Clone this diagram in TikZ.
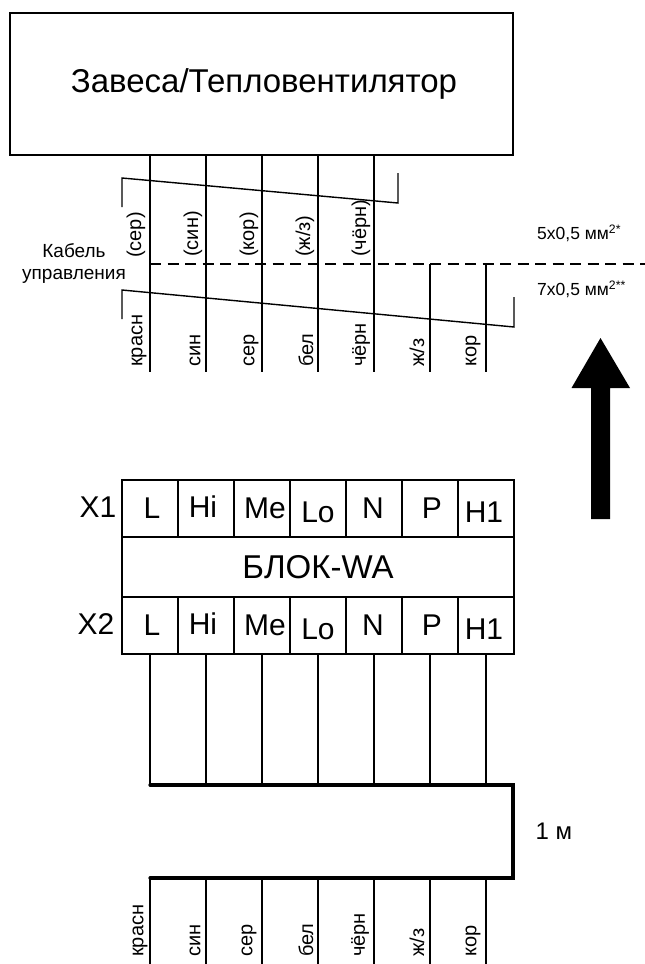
\documentclass[tikz,border=0pt]{standalone}
\usepackage{fontspec}
\setmainfont{Liberation Sans}
\usepackage{tikz}
\tikzset{
  wire/.style = {line width = 1.4pt},
  bus/.style = {line width = 3.2pt, line cap = round},
  cell/.style = {draw, line width = 1.4pt, minimum width = 56pt, minimum height = 57pt, inner sep = 0pt},
  pin/.style = {inner sep = 0pt, font = \fontsize{30}{30}\selectfont},
  tag/.style = {inner sep = 0pt, rotate = 90, anchor = west, font = \fontsize{20}{20}\selectfont},
  note/.style = {inner sep = 0pt, font = \fontsize{19}{22}\selectfont},
  size/.style = {inner sep = 0pt, anchor = west, font = \fontsize{17.5}{20}\selectfont}
}

\begin{document}
\begin{tikzpicture}[x = 1pt, y = -1pt]
\useasboundingbox (0, 0) rectangle (645, 964);

% upper unit
\node [draw, line width = 1.4pt, minimum width = 503pt, minimum height = 142pt, inner sep = 0pt, font = \fontsize{33}{33}\selectfont] (unit) at (261.5, 84) {\hspace*{5pt}Завеса/Тепловентилятор};

\coordinate (ua) at (150, 155); \coordinate (ub) at (206, 155);
\coordinate (uc) at (262, 155); \coordinate (ud) at (318, 155);
\coordinate (ue) at (374, 155);
\coordinate (uf) at (430, 264); \coordinate (ug) at (486, 264);
\coordinate (ma) at (150, 372); \coordinate (mb) at (206, 372);
\coordinate (mc) at (262, 372); \coordinate (md) at (318, 372);
\coordinate (me) at (374, 372); \coordinate (mf) at (430, 372);
\coordinate (mg) at (486, 372);
\draw [wire] (ua) -- (ma); \draw [wire] (ub) -- (mb);
\draw [wire] (uc) -- (mc); \draw [wire] (ud) -- (md);
\draw [wire] (ue) -- (me); \draw [wire] (uf) -- (mf);
\draw [wire] (ug) -- (mg);

% cable brackets and split line
\coordinate (bra) at (122, 207); \coordinate (brb) at (122, 178);
\coordinate (brc) at (398, 203); \coordinate (brd) at (398, 173);
\coordinate (bre) at (122, 319); \coordinate (brf) at (122, 290);
\coordinate (brg) at (514, 327); \coordinate (brh) at (514, 297);
\coordinate (spa) at (150, 264); \coordinate (spb) at (645, 264);
\draw [wire] (bra) -- (brb) -- (brc) -- (brd);
\draw [wire] (bre) -- (brf) -- (brg) -- (brh);
\draw [wire, dash pattern = on 11pt off 6.5pt] (spa) -- (spb);

\node [note, align = center] (cable) at (74, 264) {Кабель\\управления};
\node [size] (five) at (537, 233) {5х0,5 мм\textsuperscript{2*}};
\node [size] (seven) at (537, 289) {7х0,5 мм\textsuperscript{2**}};

\node [tag] (ota) at (136, 258) {(сер)};
\node [tag] (otb) at (193, 257) {(син)};
\node [tag] (otc) at (249, 257) {(кор)};
\node [tag] (otd) at (305, 257) {(ж/з)};
\node [tag] (ote) at (361, 257) {(чёрн)};

\node [tag] (mta) at (139, 367) {красн};
\node [tag] (mtb) at (195, 367) {син};
\node [tag] (mtc) at (251, 367) {сер};
\node [tag] (mtd) at (306, 367) {бел};
\node [tag] (mte) at (361, 367) {чёрн};
\node [tag] (mtf) at (417, 367) {ж/з};
\node [tag] (mtg) at (473, 367) {кор};

% direction arrow
\fill (600.5, 338) -- (630, 388) -- (610, 388) -- (610, 519) -- (591, 519) -- (591, 388) -- (571.5, 388) -- cycle;

% block
\node [cell] (xa) at (150, 508.5) {}; \node [cell] (xb) at (206, 508.5) {};
\node [cell] (xc) at (262, 508.5) {}; \node [cell] (xd) at (318, 508.5) {};
\node [cell] (xe) at (374, 508.5) {}; \node [cell] (xf) at (430, 508.5) {};
\node [cell] (xg) at (486, 508.5) {};
\node [draw, line width = 1.4pt, minimum width = 392pt, minimum height = 60pt, inner sep = 0pt, font = \fontsize{33}{33}\selectfont] (block) at (318, 567) {БЛОК-WA};
\node [cell] (ya) at (150, 625.5) {}; \node [cell] (yb) at (206, 625.5) {};
\node [cell] (yc) at (262, 625.5) {}; \node [cell] (yd) at (318, 625.5) {};
\node [cell] (ye) at (374, 625.5) {}; \node [cell] (yf) at (430, 625.5) {};
\node [cell] (yg) at (486, 625.5) {};

\node [pin] (xla) at (152, 508) {L}; \node [pin] (xlb) at (203, 507) {Hi};
\node [pin] (xlc) at (265, 508) {Me}; \node [pin] (xld) at (318, 512) {Lo};
\node [pin] (xle) at (373, 508) {N}; \node [pin] (xlf) at (432, 508) {P};
\node [pin] (xlg) at (484, 512) {H1};
\node [pin] (yla) at (152, 625) {L}; \node [pin] (ylb) at (203, 624) {Hi};
\node [pin] (ylc) at (265, 625) {Me}; \node [pin] (yld) at (318, 629) {Lo};
\node [pin] (yle) at (373, 625) {N}; \node [pin] (ylf) at (432, 625) {P};
\node [pin] (ylg) at (484, 629) {H1};
\node [pin] (xone) at (98, 507) {X1};
\node [pin] (xtwo) at (96, 624) {X2};

% lower harness
\coordinate (ta) at (150, 785); \coordinate (tb) at (206, 785);
\coordinate (tc) at (262, 785); \coordinate (td) at (318, 785);
\coordinate (te) at (374, 785); \coordinate (tf) at (430, 785);
\coordinate (tg) at (486, 785); \coordinate (th) at (513, 785);
\coordinate (la) at (150, 878); \coordinate (lb) at (206, 878);
\coordinate (lc) at (262, 878); \coordinate (ld) at (318, 878);
\coordinate (le) at (374, 878); \coordinate (lf) at (430, 878);
\coordinate (lg) at (486, 878); \coordinate (lh) at (513, 878);
\coordinate (ea) at (150, 964); \coordinate (eb) at (206, 964);
\coordinate (ec) at (262, 964); \coordinate (ed) at (318, 964);
\coordinate (ee) at (374, 964); \coordinate (ef) at (430, 964);
\coordinate (eg) at (486, 964);
\draw [wire] (ya.south) -- (ta); \draw [wire] (yb.south) -- (tb);
\draw [wire] (yc.south) -- (tc); \draw [wire] (yd.south) -- (td);
\draw [wire] (ye.south) -- (te); \draw [wire] (yf.south) -- (tf);
\draw [wire] (yg.south) -- (tg);
\draw [wire] (la) -- (ea); \draw [wire] (lb) -- (eb);
\draw [wire] (lc) -- (ec); \draw [wire] (ld) -- (ed);
\draw [wire] (le) -- (ee); \draw [wire] (lf) -- (ef);
\draw [wire] (lg) -- (eg);
\draw [bus] (ta) -- (th) -- (lh) -- (la);

\node [inner sep = 0pt, font = \fontsize{24}{24}\selectfont] (len) at (554, 831) {1 м};

\node [tag] (lta) at (140, 957) {красн};
\node [tag] (ltb) at (195, 957) {син};
\node [tag] (ltc) at (249, 957) {сер};
\node [tag] (ltd) at (306, 957) {бел};
\node [tag] (lte) at (360, 957) {чёрн};
\node [tag] (ltf) at (417, 957) {ж/з};
\node [tag] (ltg) at (473, 957) {кор};

\end{tikzpicture}
\end{document}
